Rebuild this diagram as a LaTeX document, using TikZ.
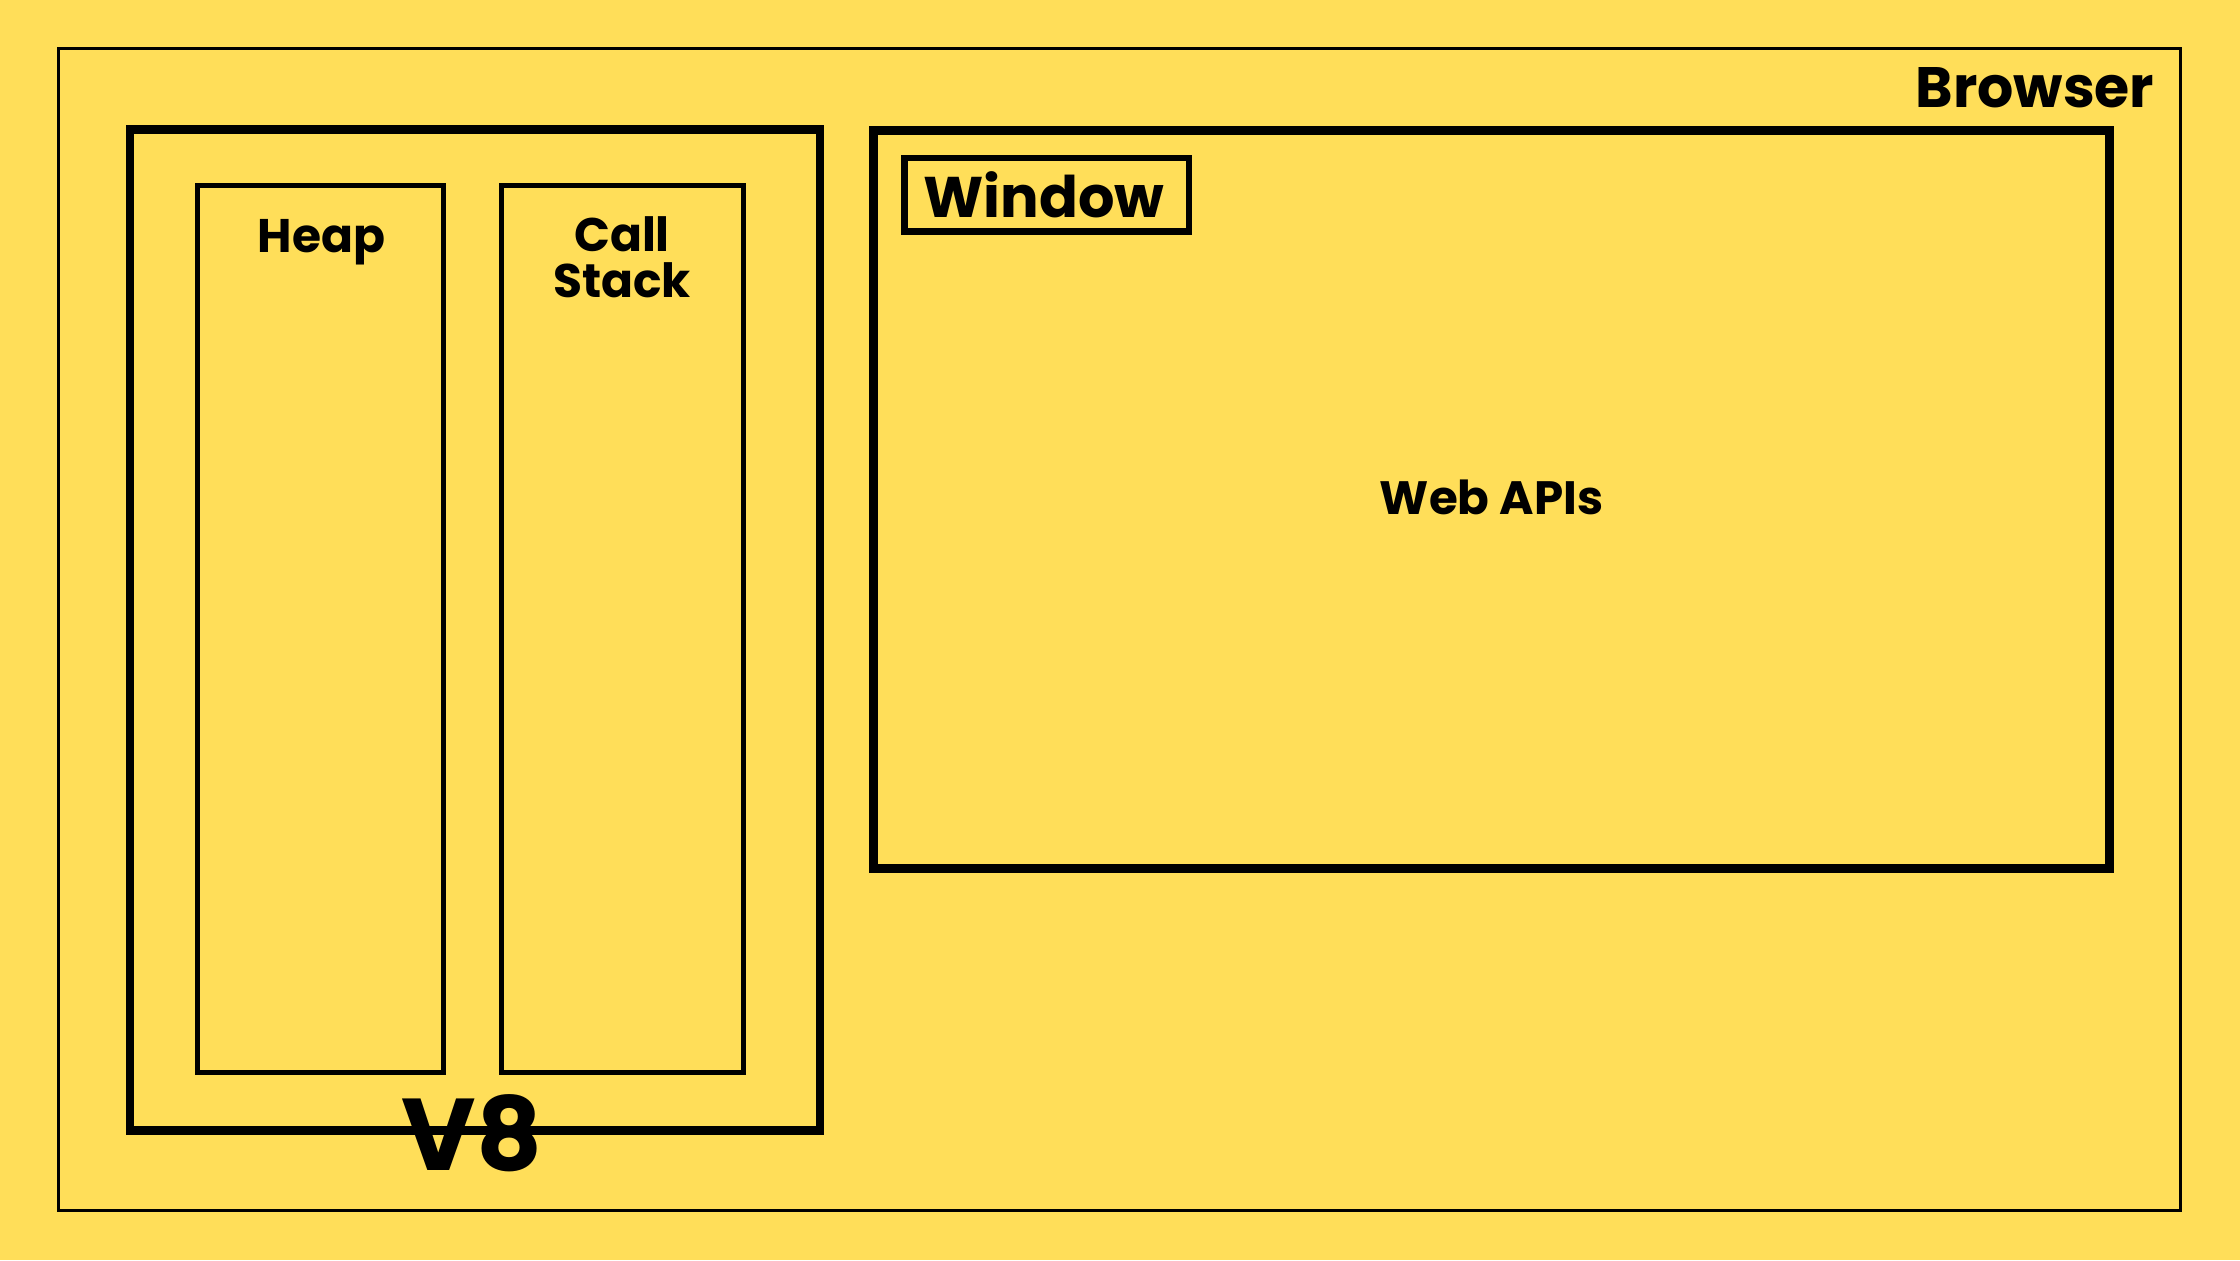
\documentclass[tikz,border=0pt]{standalone}
\usepackage{fontspec}
\setmainfont{Poppins}
\definecolor{bgyellow}{RGB}{255,222,89}
\begin{document}
\begin{tikzpicture}[x=0.01cm,y=-0.01cm,
  frame/.style={draw=black, rectangle, inner sep=0pt, fill=none},
  lbl/.style={inner sep=0pt, font=\bfseries, text=black},
  ]
\fill[bgyellow] (0,0) rectangle (2240,1260);
\useasboundingbox (0,0) rectangle (2240,1260);
% boxes
\node[frame, line width=0.85pt, minimum width=21.205cm, minimum height=11.615cm] (browser) at (1119.75,629.25) {};
\node[frame, line width=2.4pt, minimum width=6.9cm, minimum height=10cm] (v8) at (475,630) {};
\node[frame, line width=1.45pt, minimum width=2.46cm, minimum height=8.865cm] (heap) at (320.5,629.25) {};
\node[frame, line width=1.45pt, minimum width=2.415cm, minimum height=8.865cm] (stack) at (622.25,629.25) {};
\node[frame, line width=2.6pt, minimum width=12.36cm, minimum height=7.38cm] (web) at (1491.5,499.5) {};
\node[frame, line width=1.75pt, minimum width=2.845cm, minimum height=0.735cm] (window) at (1046.75,194.75) {};
% labels
\node[lbl, font=\bfseries\fontsize{16.2}{19}\selectfont, anchor=base east] (browserlbl) at (2155,107) {Browser};
\node[lbl, font=\bfseries\fontsize{13.4}{16}\selectfont, anchor=base] (heaplbl) at (321.5,252) {Heap};
\node[lbl, font=\bfseries\fontsize{13.4}{16}\selectfont, anchor=base] (calllbl) at (622,251) {Call};
\node[lbl, font=\bfseries\fontsize{13.4}{16}\selectfont, anchor=base] (stacklbl) at (622,297) {Stack};
\node[lbl, font=\bfseries\fontsize{16.3}{19}\selectfont, anchor=base] (windowlbl) at (1044,217) {Window};
\node[lbl, font=\bfseries\fontsize{13.3}{16}\selectfont, anchor=base] (weblbl) at (1491.5,514) {Web APIs};
\node[lbl, font=\bfseries\fontsize{29}{32}\selectfont, anchor=base] (v8lbl) at (472,1170) {V8};
\end{tikzpicture}
\end{document}
